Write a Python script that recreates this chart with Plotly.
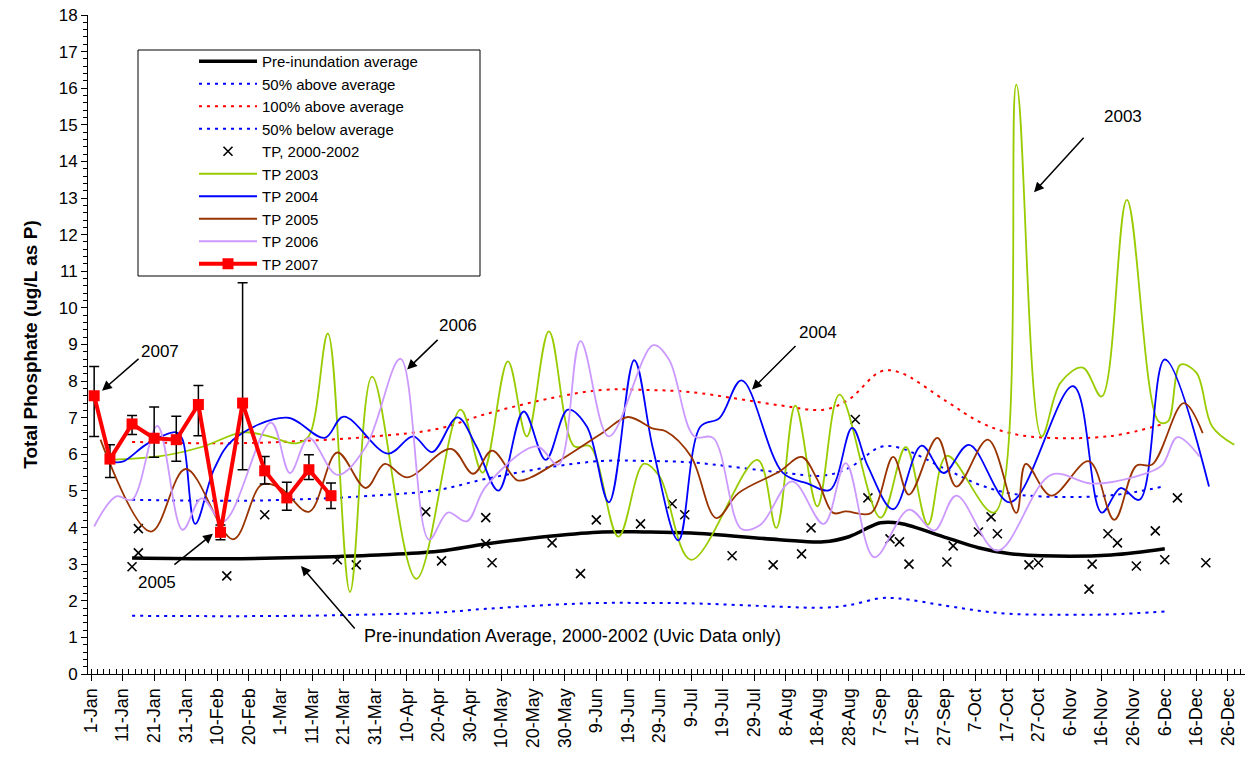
import plotly.graph_objects as go

FONT = "Liberation Sans, Arial, sans-serif"

# ---------------- axis labels ----------------
tick_days = list(range(0, 361, 10))
tick_labels = ["1-Jan", "11-Jan", "21-Jan", "31-Jan", "10-Feb", "20-Feb", "1-Mar", "11-Mar",
               "21-Mar", "31-Mar", "10-Apr", "20-Apr", "30-Apr", "10-May", "20-May", "30-May",
               "9-Jun", "19-Jun", "29-Jun", "9-Jul", "19-Jul", "29-Jul", "8-Aug", "18-Aug",
               "28-Aug", "7-Sep", "17-Sep", "27-Sep", "7-Oct", "17-Oct", "27-Oct", "6-Nov",
               "16-Nov", "26-Nov", "6-Dec", "16-Dec", "26-Dec"]

# ---------------- pre-inundation average and bands (day offset from 1-Jan) ----------------
avg_days = [13, 43, 66, 91, 110, 125, 146, 162, 175, 190, 218, 232, 240, 250, 256, 271, 281, 290, 301, 323, 340]
avg_vals = [3.17, 3.15, 3.18, 3.25, 3.35, 3.55, 3.77, 3.88, 3.88, 3.85, 3.67, 3.61, 3.75, 4.13, 4.12,
            3.72, 3.45, 3.30, 3.23, 3.25, 3.42]
above50_vals = [4.76, 4.73, 4.77, 4.88, 5.03, 5.33, 5.66, 5.82, 5.82, 5.78, 5.51, 5.42, 5.63, 6.20, 6.18,
                5.58, 5.18, 4.95, 4.85, 4.88, 5.13]
above100_vals = [6.34, 6.30, 6.36, 6.50, 6.70, 7.10, 7.54, 7.76, 7.76, 7.70, 7.34, 7.22, 7.50, 8.26, 8.24,
                 7.44, 6.90, 6.60, 6.46, 6.50, 6.84]
below50_vals = [1.59, 1.58, 1.59, 1.63, 1.68, 1.78, 1.89, 1.94, 1.94, 1.93, 1.84, 1.81, 1.88, 2.07, 2.06,
                1.86, 1.73, 1.65, 1.62, 1.63, 1.71]

# ---------------- TP 2000-2002 samples ----------------
tp0002_days = [13, 15, 15, 43, 55, 78, 84, 106, 111, 125, 125, 127, 146, 155, 160, 174, 184, 188,
               203, 216, 225, 228, 242, 246, 253, 256, 259, 271, 273, 281, 285, 287, 297, 300,
               316, 317, 322, 325, 331, 337, 340, 344, 353]
tp0002_vals = [2.93, 3.31, 3.97, 2.68, 4.35, 3.12, 2.98, 4.43, 3.09, 4.27, 3.56, 3.04, 3.58, 2.74, 4.21,
               4.10, 4.65, 4.35, 3.23, 2.98, 3.28, 3.99, 6.95, 4.81, 3.69, 3.61, 3.00, 3.06, 3.50, 3.88,
               4.29, 3.83, 2.98, 3.04, 2.32, 3.00, 3.83, 3.58, 2.95, 3.91, 3.12, 4.81, 3.04]

# ---------------- TP 2003 ----------------
tp2003_days = [6, 22, 35, 48, 56, 65, 69, 75, 82, 89, 103, 117, 124, 132, 138, 145, 153, 158, 167, 175,
               180, 190, 211, 217, 223, 230, 237, 250, 258, 265, 271, 286, 293, 301, 307, 314, 320,
               328, 338, 341, 345, 350, 355, 362]
tp2003_vals = [5.85, 5.95, 6.2, 6.6, 6.5, 6.3, 6.5, 9.3, 2.24, 8.12, 2.6, 7.22, 5.5, 8.54, 6.49, 9.36,
               6.22, 6.22, 3.75, 5.74, 5.4, 3.12, 5.85, 3.99, 7.33, 4.58, 7.63, 4.27, 6.2, 4.08, 5.96,
               4.41, 16.1, 6.49, 7.96, 8.37, 7.58, 12.95, 6.9, 6.9, 8.45, 8.23, 6.76, 6.26]

# ---------------- TP 2004 ----------------
tp2004_days = [6, 10, 18, 27, 29, 33, 39, 45, 62, 74, 80, 94, 102, 108, 116, 122, 129, 137, 144, 151,
               157, 164, 172, 178, 186, 193, 199, 206, 219, 227, 234, 241, 246, 254, 263, 270, 278,
               291, 311, 320, 326, 332, 340, 354]
tp2004_vals = [5.8, 5.8, 6.3, 6.6, 6.4, 4.1, 5.6, 6.4, 7.0, 6.45, 7.03, 6.02, 6.49, 6.06, 7.01, 6.22,
               5.01, 7.17, 5.85, 7.22, 6.76, 4.69, 8.57, 6.13, 3.65, 6.76, 6.99, 8.02, 5.5, 5.2, 5.03,
               6.72, 5.67, 4.5, 6.24, 5.49, 6.26, 4.69, 7.86, 4.41, 5.08, 4.76, 8.59, 5.12]

# ---------------- TP 2005 ----------------
tp2005_days = [3, 19, 30, 45, 54, 60, 69, 78, 87, 93, 100, 114, 121, 127, 135, 139, 148, 162, 170, 178,
               182, 190, 198, 205, 218, 225, 230, 235, 239, 247, 254, 259, 268, 274, 284, 293, 296,
               304, 316, 324, 331, 336, 346, 352]
tp2005_vals = [6.4, 3.89, 5.6, 3.68, 5.17, 5.08, 4.43, 6.05, 5.08, 5.74, 5.37, 6.15, 5.47, 6.1, 5.29,
               5.36, 5.81, 6.59, 7.02, 6.7, 6.63, 5.94, 4.26, 4.94, 5.53, 5.93, 5.31, 4.4, 4.44, 4.4,
               5.93, 4.9, 6.45, 5.12, 6.4, 4.4, 5.74, 4.87, 5.81, 4.21, 5.69, 5.72, 7.4, 6.58]

# ---------------- TP 2006 ----------------
tp2006_days = [1, 8, 13, 21, 29, 35, 42, 57, 63, 69, 78, 87, 98, 107, 113, 119, 125, 141, 148, 155,
               164, 178, 183, 191, 197, 206, 212, 222, 232, 239, 248, 259, 267, 274, 287, 304, 317,
               331, 339, 344, 351]
tp2006_vals = [4.03, 4.85, 4.76, 6.78, 3.94, 4.8, 4.17, 6.87, 5.49, 6.45, 5.44, 6.2, 8.61, 3.67, 4.41,
               4.17, 5.12, 6.22, 5.72, 9.09, 6.49, 8.98, 8.59, 6.49, 6.45, 3.96, 4.08, 5.26, 4.1, 5.76,
               3.19, 4.49, 3.92, 4.87, 3.37, 5.44, 5.2, 5.4, 5.69, 6.47, 5.94]

# ---------------- TP 2007 (with error bars) ----------------
tp2007_days = [1, 6, 13, 20, 27, 34, 41, 48, 55, 62, 69, 76]
tp2007_vals = [7.60, 5.87, 6.83, 6.44, 6.40, 7.36, 3.87, 7.40, 5.55, 4.81, 5.58, 4.87]
tp2007_err_plus = [0.80, 0.39, 0.23, 0.85, 0.64, 0.52, 0.20, 3.29, 0.39, 0.43, 0.41, 0.35]
tp2007_err_minus = [1.11, 0.50, 0.29, 0.52, 0.59, 0.85, 0.20, 1.82, 0.36, 0.34, 0.27, 0.35]

fig = go.Figure()

dot_dash = "3px,5px"
fig.add_trace(go.Scatter(x=avg_days, y=below50_vals, mode="lines", name="50% below average",
                         line=dict(color="#0000FF", width=2, dash=dot_dash, shape="spline"), legendrank=4))
fig.add_trace(go.Scatter(x=avg_days, y=above50_vals, mode="lines", name="50% above average",
                         line=dict(color="#0000FF", width=2, dash=dot_dash, shape="spline"), legendrank=2))
fig.add_trace(go.Scatter(x=avg_days, y=above100_vals, mode="lines", name="100% above average",
                         line=dict(color="#FF0000", width=2, dash=dot_dash, shape="spline"), legendrank=3))
fig.add_trace(go.Scatter(x=avg_days, y=avg_vals, mode="lines", name="Pre-inundation average",
                         line=dict(color="#000000", width=3.5, shape="spline"), legendrank=1))
fig.add_trace(go.Scatter(x=tp0002_days, y=tp0002_vals, mode="markers", name="TP, 2000-2002",
                         marker=dict(symbol="x-thin", size=9, color="#000000",
                                     line=dict(color="#000000", width=1.6)), legendrank=5))
fig.add_trace(go.Scatter(x=tp2003_days, y=tp2003_vals, mode="lines", name="TP 2003",
                         line=dict(color="#99CC00", width=1.8, shape="spline", smoothing=1), legendrank=6))
fig.add_trace(go.Scatter(x=tp2004_days, y=tp2004_vals, mode="lines", name="TP 2004",
                         line=dict(color="#0000FF", width=1.8, shape="spline", smoothing=1), legendrank=7))
fig.add_trace(go.Scatter(x=tp2005_days, y=tp2005_vals, mode="lines", name="TP 2005",
                         line=dict(color="#993300", width=1.8, shape="spline", smoothing=1), legendrank=8))
fig.add_trace(go.Scatter(x=tp2006_days, y=tp2006_vals, mode="lines", name="TP 2006",
                         line=dict(color="#CC99FF", width=1.8, shape="spline", smoothing=1), legendrank=9))
fig.add_trace(go.Scatter(x=tp2007_days, y=tp2007_vals, mode="lines+markers", name="TP 2007",
                         line=dict(color="#FF0000", width=4),
                         marker=dict(symbol="square", size=11, color="#FF0000"),
                         error_y=dict(type="data", symmetric=False, array=tp2007_err_plus,
                                      arrayminus=tp2007_err_minus, color="#000000", thickness=1.5, width=5),
                         legendrank=10))

# annotation labels and arrows
labels = [
    ("2007", 21.8, 8.81), ("2005", 20.9, 2.49), ("2006", 116.2, 9.52),
    ("2004", 230.2, 9.33), ("2003", 326.8, 15.24),
]
annotations = []
for txt, xx, yy in labels:
    annotations.append(dict(x=xx, y=yy, xref="x", yref="y", text=txt, showarrow=False,
                            font=dict(family=FONT, size=17, color="#000000")))
annotations.append(dict(x=85.8, y=1.04, xref="x", yref="y", xanchor="left",
                        text="Pre-inundation Average, 2000-2002 (Uvic Data only)", showarrow=False,
                        font=dict(family=FONT, size=18, color="#000000")))
arrows = [
    (3.5, 7.74, 38, -33), (38.6, 3.83, -40, 32), (100.1, 8.32, 32, -31),
    (209.3, 7.77, 45, -45), (298.6, 13.16, 51, -56), (66.5, 2.95, 55, 64),
]
for hx, hy, ax, ay in arrows:
    annotations.append(dict(x=hx, y=hy, xref="x", yref="y", text="", showarrow=True,
                            ax=ax, ay=ay, arrowhead=2, arrowsize=1.3, arrowwidth=1.5,
                            arrowcolor="#000000"))

# the page's default body margin is removed (post_script below), so the figure fills the window
L, R, T, B = 88, 14, 15, 88
W, H = 1259, 762
pw, ph = W - L - R, H - T - B


def px(xpage):
    return (xpage - L) / pw


def py(ypage):
    return (H - B - ypage) / ph


fig.update_layout(
    width=W, height=H,
    template="none",
    paper_bgcolor="white", plot_bgcolor="white",
    margin=dict(l=L, r=R, t=T, b=B),
    font=dict(family=FONT, size=16, color="#000000"),
    showlegend=True,
    legend=dict(x=px(194), y=py(45), xanchor="left", yanchor="top",
                bgcolor="rgba(0,0,0,0)", borderwidth=0, itemwidth=58,
                font=dict(family=FONT, size=15, color="#000000"), tracegroupgap=0),
    shapes=[dict(type="rect", xref="paper", yref="paper", x0=px(138), x1=px(480),
                 y0=py(276), y1=py(50), line=dict(color="#000000", width=1),
                 fillcolor="white", layer="below")],
    annotations=annotations,
)

fig.update_xaxes(range=[-0.95, 365.4], tickmode="array", tickvals=tick_days, ticktext=tick_labels,
                 tickangle=-90, ticks="outside", ticklen=6, tickcolor="#000000",
                 showline=True, linecolor="#000000", linewidth=1, showgrid=False, zeroline=False,
                 tickfont=dict(family=FONT, size=18, color="#000000"), ticklabeloverflow="allow",
                 minor=dict(dtick=2, tick0=0, ticks="inside", ticklen=5, tickcolor="#000000", showgrid=False))
fig.update_yaxes(range=[0, 18], dtick=1, tick0=0, ticks="outside", ticklen=6, tickcolor="#000000",
                 showline=True, linecolor="#000000", linewidth=1, showgrid=False, zeroline=False,
                 tickfont=dict(family=FONT, size=17, color="#000000"), ticklabeloverflow="allow",
                 title=dict(text="<b>Total Phosphate (ug/L as P)</b>", standoff=16,
                            font=dict(family=FONT, size=19, color="#000000")),
                 minor=dict(dtick=0.2, ticks="outside", ticklen=4, tickcolor="#000000", showgrid=False))

fig.write_html("out.html", config={"displayModeBar": False},
               post_script="document.body.style.margin='0';document.body.style.overflow='hidden';")
